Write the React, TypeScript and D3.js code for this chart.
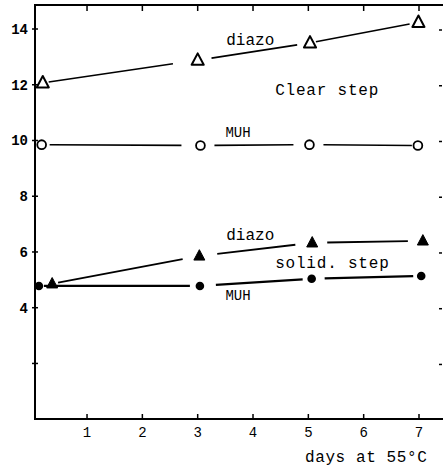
import React from "react";
import * as d3 from "d3";

const W = 443;
const H = 469;

const xTicks = [1, 2, 3, 4, 5, 6, 7];
const yTicks = [2, 4, 6, 8, 10, 12, 14];
const yTickLabels = ["", "4", "6", "8", "10", "12", "14"];

const clearDiazoX = [0.2, 3.0, 5.03, 6.99];
const clearDiazoY = [12.07, 12.88, 13.5, 14.24];
const clearMuhX = [0.18, 3.05, 5.02, 6.98];
const clearMuhY = [9.85, 9.82, 9.85, 9.82];
const solidDiazoX = [0.37, 3.03, 5.07, 7.07];
const solidDiazoY = [4.86, 5.86, 6.33, 6.4];
const solidMuhX = [0.13, 3.04, 5.06, 7.04];
const solidMuhY = [4.78, 4.78, 5.04, 5.14];

const x = d3.scaleLinear().domain([0, 7]).range([31.7, 419]);
const y = d3.scaleLinear().domain([0, 14]).range([419.2, 29]);

const FONT = "'Liberation Mono', 'DejaVu Sans Mono', monospace";

type Seg = { x1: number; y1: number; x2: number; y2: number };

function segments(xs: number[], ys: number[], gaps: [number, number][]): Seg[] {
  const out: Seg[] = [];
  for (let i = 0; i < xs.length - 1; i++) {
    const ax = x(xs[i]), ay = y(ys[i]), bx = x(xs[i + 1]), by = y(ys[i + 1]);
    const len = Math.hypot(bx - ax, by - ay);
    const ux = (bx - ax) / len, uy = (by - ay) / len;
    const [g1, g2] = gaps[i];
    out.push({ x1: ax + ux * g1, y1: ay + uy * g1, x2: bx - ux * g2, y2: by - uy * g2 });
  }
  return out;
}

const triPath = (cx: number, cy: number, s: number) =>
  `M${cx},${cy - s * 0.62} L${cx + s * 0.55},${cy + s * 0.42} L${cx - s * 0.55},${cy + s * 0.42} Z`;

export default function App() {
  const cdSegs = segments(clearDiazoX, clearDiazoY, [[6, 25], [14, 13], [6, 9]]);
  const cmSegs = segments(clearMuhX, clearMuhY, [[8, 19], [14, 16], [14, 6]]);
  const sdSegs = segments(solidDiazoX, solidDiazoY, [[6, 17], [18, 17], [15, 15]]);
  const smSegs = segments(solidMuhX, solidMuhY, [[5, 10], [16, 9], [13, 8]]);

  return (
    <svg width={W} height={H} style={{ display: "block", position: "absolute", left: 0, top: 0, background: "#fff" }}>
      <rect x={0} y={0} width={W} height={H} fill="#fff" />
      {/* frame */}
      <line x1={35} y1={5} x2={443} y2={5} stroke="#000" strokeWidth={2} />
      <line x1={35} y1={4} x2={35} y2={420} stroke="#000" strokeWidth={2} />
      <line x1={34} y1={419} x2={443} y2={419} stroke="#000" strokeWidth={2} />
      {/* top ticks */}
      {xTicks.map((t) => (
        <line key={"tt" + t} x1={x(t)} y1={5} x2={x(t)} y2={11} stroke="#000" strokeWidth={1.5} />
      ))}
      {/* bottom ticks */}
      {xTicks.map((t) => (
        <g key={"bt" + t}>
          <line x1={x(t)} y1={419} x2={x(t)} y2={414} stroke="#000" strokeWidth={1.5} />
          <text x={x(t)} y={437} textAnchor="middle" fontFamily={FONT} fontSize={14} fill="#000">
            {t}
          </text>
        </g>
      ))}
      {/* left ticks */}
      {yTicks.map((t, i) => (
        <g key={"lt" + t}>
          <line x1={32} y1={y(t)} x2={38} y2={y(t)} stroke="#000" strokeWidth={1.5} />
          <text x={28} y={y(t)} dy="0.35em" textAnchor="end" fontFamily={FONT} fontSize={14} fontWeight="bold" fill="#000">
            {yTickLabels[i]}
          </text>
        </g>
      ))}
      {/* right ticks */}
      {yTicks.map((t) => (
        <line key={"rt" + t} x1={439} y1={y(t) + 1} x2={442} y2={y(t) + 1} stroke="#000" strokeWidth={1.5} />
      ))}

      {/* lines */}
      {cdSegs.map((s, i) => (
        <line key={"cd" + i} {...s} stroke="#000" strokeWidth={1.6} />
      ))}
      {cmSegs.map((s, i) => (
        <line key={"cm" + i} {...s} stroke="#000" strokeWidth={1.6} />
      ))}
      {sdSegs.map((s, i) => (
        <line key={"sd" + i} {...s} stroke="#000" strokeWidth={1.8} />
      ))}
      {smSegs.map((s, i) => (
        <line key={"sm" + i} {...s} stroke="#000" strokeWidth={2.2} />
      ))}

      {/* markers */}
      {clearDiazoX.map((v, i) => (
        <path key={"cdm" + i} d={triPath(x(v), y(clearDiazoY[i]), 11)} fill="#fff" stroke="#000" strokeWidth={2} strokeLinejoin="round" />
      ))}
      {clearMuhX.map((v, i) => (
        <circle key={"cmm" + i} cx={x(v)} cy={y(clearMuhY[i])} r={4.4} fill="#fff" stroke="#000" strokeWidth={1.8} />
      ))}
      {solidDiazoX.map((v, i) => (
        <path key={"sdm" + i} d={triPath(x(v), y(solidDiazoY[i]), 10)} fill="#000" stroke="#000" strokeWidth={1} strokeLinejoin="round" />
      ))}
      {solidMuhX.map((v, i) => (
        <circle key={"smm" + i} cx={x(v)} cy={y(solidMuhY[i])} r={4.3} fill="#000" />
      ))}

      {/* annotations */}
      <text x={x(3.95)} y={y(13.43)} textAnchor="middle" fontFamily={FONT} fontSize={16} fill="#000">diazo</text>
      <text x={x(4.4)} y={y(11.63)} fontFamily={FONT} fontSize={16} letterSpacing={0.8} fill="#000">Clear step</text>
      <text x={x(3.73)} y={y(10.12)} textAnchor="middle" fontFamily={FONT} fontSize={14} fill="#000">MUH</text>
      <text x={x(3.95)} y={y(6.43)} textAnchor="middle" fontFamily={FONT} fontSize={16} fill="#000">diazo</text>
      <text x={x(4.4)} y={y(5.42)} fontFamily={FONT} fontSize={16} letterSpacing={0.8} fill="#000">solid. step</text>
      <text x={x(3.73)} y={y(4.28)} textAnchor="middle" fontFamily={FONT} fontSize={14} fill="#000">MUH</text>
      <text x={305} y={462} fontFamily={FONT} fontSize={16} letterSpacing={0.6} fill="#000">days at 55°C</text>
    </svg>
  );
}
